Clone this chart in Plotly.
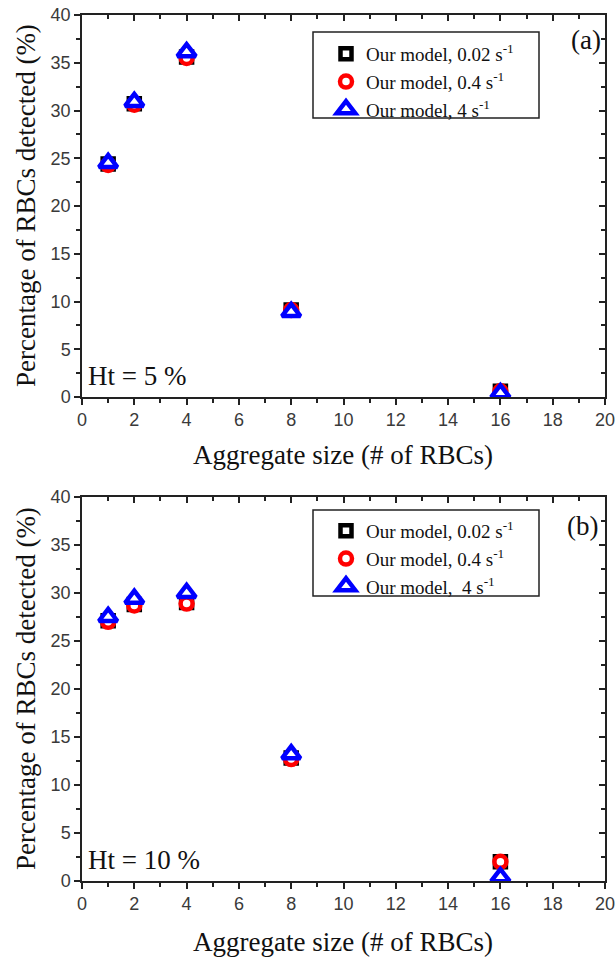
import plotly.graph_objects as go

# ---- data ----
sizes = [1, 2, 4, 8, 16]
series_names = ["Our model, 0.02 s<sup>-1</sup>", "Our model, 0.4 s<sup>-1</sup>", "Our model, 4 s<sup>-1</sup>"]
series_names_b = ["Our model, 0.02 s<sup>-1</sup>", "Our model, 0.4 s<sup>-1</sup>", "Our model,  4 s<sup>-1</sup>"]
ht5_002 = [24.4, 30.7, 35.6, 9.1, 0.6]
ht5_04 = [24.3, 30.6, 35.5, 9.1, 0.6]
ht5_4 = [24.5, 30.9, 36.1, 8.9, 0.4]
ht10_002 = [27.1, 28.8, 29.0, 12.8, 2.0]
ht10_04 = [27.0, 28.7, 28.9, 12.7, 2.0]
ht10_4 = [27.5, 29.4, 30.0, 13.2, 0.4]
x_ticks = list(range(0, 21, 2))
y_ticks = list(range(0, 41, 5))

W, H = 616, 958
def px(x):
    return x / W
def py(y):
    return 1 - y / H

colors = ["black", "red", "blue"]
symbols = ["square", "circle", "triangle-up"]
msize = [11, 12, 16]

fig = go.Figure()

for i, ys in enumerate([ht5_002, ht5_04, ht5_4]):
    fig.add_trace(go.Scatter(
        x=sizes, y=ys, mode="markers", name=series_names[i],
        marker=dict(symbol=symbols[i], size=msize[i], color="white",
                    line=dict(color=colors[i], width=4.5)),
        xaxis="x", yaxis="y", legend="legend"))
for i, ys in enumerate([ht10_002, ht10_04, ht10_4]):
    fig.add_trace(go.Scatter(
        x=sizes, y=ys, mode="markers", name=series_names_b[i],
        marker=dict(symbol=symbols[i], size=msize[i], color="white",
                    line=dict(color=colors[i], width=4.5)),
        xaxis="x2", yaxis="y2", legend="legend2"))

# invisible traces for mirror axes
for xa, ya in [("x3", "y3"), ("x4", "y4")]:
    fig.add_trace(go.Scatter(x=[None], y=[None], xaxis=xa, yaxis=ya, showlegend=False, hoverinfo="skip"))

xdom = [px(82), px(605)]
top_dom = [py(397), py(15)]
bot_dom = [py(881), py(497)]

axcol = "#222"
tickfont = dict(family="Liberation Sans, Arial", size=18, color="#3a3a3a")

def xax(anchor, domain, side="bottom", inside=False, overlay=None):
    d = dict(domain=domain, anchor=anchor, range=[0, 20], tickvals=x_ticks, automargin=False,
             showgrid=False, zeroline=False, showline=True, linecolor=axcol, linewidth=1.5,
             ticks="inside" if inside else "outside", ticklen=6, tickwidth=1.5, tickcolor=axcol,
             minor=dict(ticks="inside" if inside else "outside", dtick=1, tick0=0, ticklen=4,
                        tickwidth=1.5, tickcolor=axcol, showgrid=False),
             tickfont=tickfont, side=side, showticklabels=not inside, fixedrange=True)
    if overlay:
        d["overlaying"] = overlay
    return d

def yax(anchor, domain, side="left", inside=False, overlay=None):
    d = dict(domain=domain, anchor=anchor, range=[0, 40], tickvals=y_ticks, automargin=False,
             showgrid=False, zeroline=False, showline=True, linecolor=axcol, linewidth=1.5,
             ticks="inside" if inside else "outside", ticklen=6, tickwidth=1.5, tickcolor=axcol,
             minor=dict(ticks="inside" if inside else "outside", dtick=2.5, tick0=0, ticklen=4,
                        tickwidth=1.5, tickcolor=axcol, showgrid=False),
             tickfont=tickfont, side=side, showticklabels=not inside, fixedrange=True)
    if overlay:
        d["overlaying"] = overlay
    return d

serif = "Liberation Serif, Times New Roman, serif"
legfont = dict(family=serif, size=19, color="#111")

fig.update_layout(
    template="none",
    width=W, height=H, margin=dict(l=0, r=0, t=0, b=0, autoexpand=False),
    paper_bgcolor="white", plot_bgcolor="white",
    xaxis=xax("y", xdom), yaxis=yax("x", top_dom),
    xaxis2=xax("y2", xdom), yaxis2=yax("x2", bot_dom),
    xaxis3=xax("y3", xdom, side="top", inside=True, overlay="x"),
    yaxis3=yax("x3", top_dom, side="right", inside=True, overlay="y"),
    xaxis4=xax("y4", xdom, side="top", inside=True, overlay="x2"),
    yaxis4=yax("x4", bot_dom, side="right", inside=True, overlay="y2"),
    legend=dict(x=px(326), y=py(35), xanchor="left", yanchor="top", font=legfont,
                bgcolor="rgba(0,0,0,0)", borderwidth=0, itemwidth=30),
    legend2=dict(x=px(326), y=py(512), xanchor="left", yanchor="top", font=legfont,
                 bgcolor="rgba(0,0,0,0)", borderwidth=0, itemwidth=30),
    showlegend=True,
)

# legend boxes
for (y0, y1) in [(32, 118), (510, 596)]:
    fig.add_shape(type="rect", xref="paper", yref="paper",
                  x0=px(313), x1=px(539), y0=py(y1), y1=py(y0),
                  line=dict(color="#222", width=1.5), fillcolor="rgba(0,0,0,0)")

def ann(text, x, y, size, xanchor="center", yanchor="middle", angle=0):
    fig.add_annotation(text=text, x=px(x), y=py(y), xref="paper", yref="paper",
                       showarrow=False, xanchor=xanchor, yanchor=yanchor, textangle=angle,
                       font=dict(family=serif, size=size, color="#111"))

ann("(a)", 603, 40, 27, xanchor="right")
ann("(b)", 600, 526, 27, xanchor="right")
ann("Ht = 5 %", 86, 376, 27, xanchor="left")
ann("Ht = 10 %", 86, 860, 27, xanchor="left")
ann("Aggregate size (# of RBCs)", 343, 455, 27)
ann("Aggregate size (# of RBCs)", 343, 942, 27)
ann("Percentage of RBCs detected (%)", 26, 206, 27, angle=-90)
ann("Percentage of RBCs detected (%)", 26, 689, 27, angle=-90)

fig.write_html("out.html")
